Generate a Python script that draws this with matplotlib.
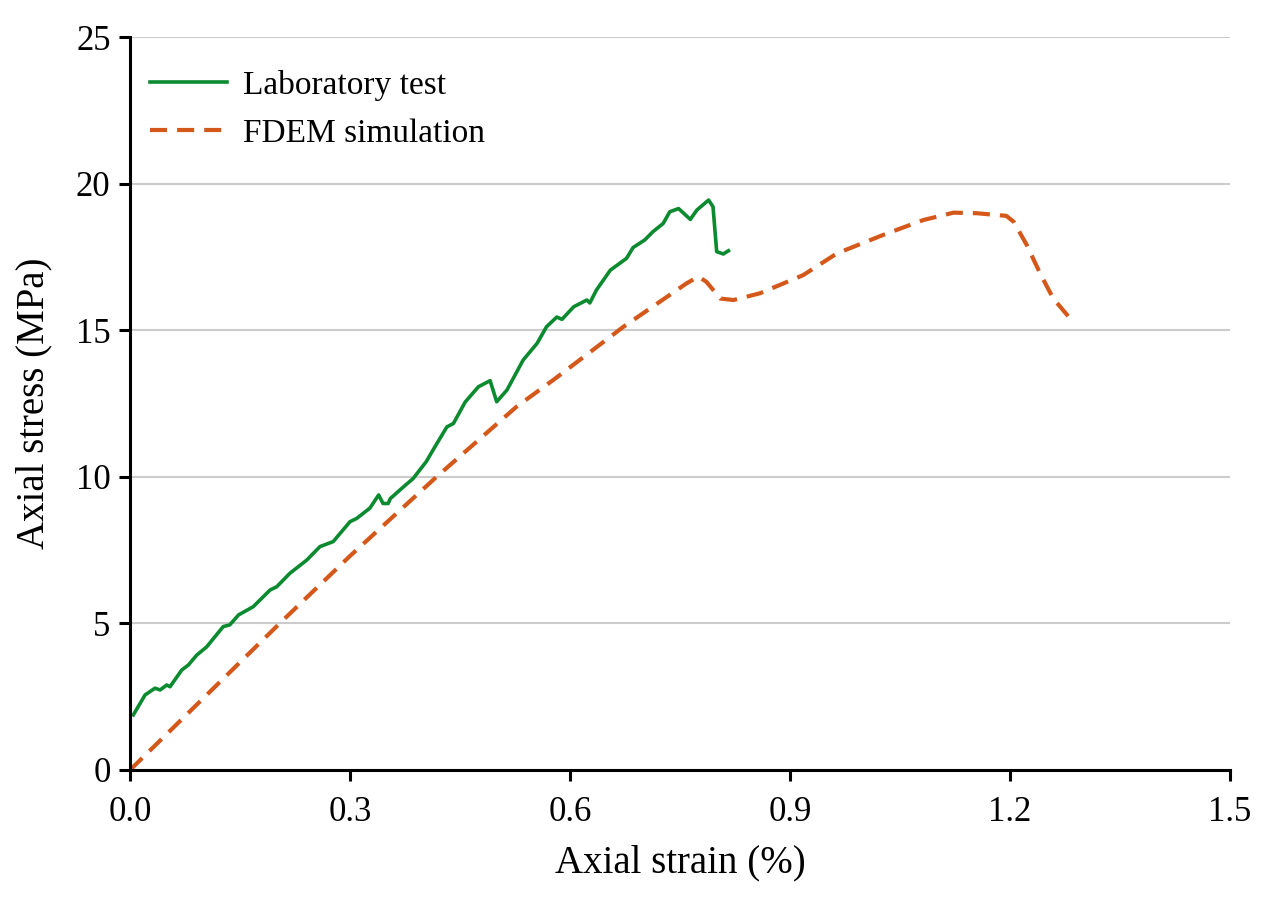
import numpy as np
import matplotlib
matplotlib.use("Agg")
import matplotlib.pyplot as plt

plt.rcParams['font.family'] = 'serif'
plt.rcParams['font.serif'] = ['Liberation Serif', 'DejaVu Serif']
plt.rcParams['font.size'] = 25

# Laboratory test (strain %, stress MPa)
lab_strain = [0.0045, 0.0205, 0.034, 0.041, 0.05, 0.0545, 0.0705, 0.0795, 0.091, 0.1045,
              0.127, 0.136, 0.148, 0.168, 0.191, 0.2, 0.218, 0.241, 0.259, 0.277,
              0.3, 0.309, 0.327, 0.339, 0.345, 0.352, 0.355, 0.373, 0.386, 0.404,
              0.414, 0.432, 0.441, 0.457, 0.475, 0.491, 0.5, 0.514, 0.536, 0.555,
              0.568, 0.582, 0.589, 0.605, 0.623, 0.627, 0.636, 0.655, 0.677, 0.686,
              0.702, 0.713, 0.727, 0.736, 0.748, 0.764, 0.773, 0.789, 0.795, 0.8,
              0.809, 0.816]
lab_stress = [1.88, 2.56, 2.79, 2.73, 2.9, 2.84, 3.41, 3.58, 3.92, 4.2,
              4.89, 4.95, 5.29, 5.57, 6.14, 6.25, 6.71, 7.16, 7.62, 7.79,
              8.47, 8.58, 8.93, 9.38, 9.09, 9.09, 9.26, 9.66, 9.94, 10.52,
              10.95, 11.7, 11.82, 12.55, 13.07, 13.28, 12.56, 12.96, 13.98, 14.55,
              15.12, 15.45, 15.37, 15.8, 16.03, 15.93, 16.37, 17.05, 17.45, 17.82,
              18.08, 18.36, 18.64, 19.04, 19.15, 18.78, 19.1, 19.44, 19.21, 17.68,
              17.6, 17.71]

# FDEM simulation
sim_strain = [0.0, 0.1, 0.209, 0.3, 0.418, 0.527, 0.577, 0.673, 0.759, 0.775,
              0.786, 0.805, 0.823, 0.859, 0.918, 0.964, 1.027, 1.082, 1.123, 1.155,
              1.195, 1.205, 1.223, 1.241, 1.259, 1.28]
sim_stress = [0.0, 2.45, 5.12, 7.3, 10.0, 12.39, 13.3, 15.12, 16.6, 16.83,
              16.65, 16.08, 16.03, 16.26, 16.88, 17.62, 18.25, 18.76, 19.01, 18.99,
              18.9, 18.7, 17.9, 16.94, 16.08, 15.46]

fig = plt.figure(figsize=(12.7, 8.99), dpi=100)
ax = fig.add_axes([0.1024, 0.1435, 0.8661, 0.8153])

ax.plot(lab_strain, lab_stress, '-', color='#0b8a2f', linewidth=2.6, label='Laboratory test')
ax.plot(sim_strain, sim_stress, '--', color='#d5581b', linewidth=3.0,
        dashes=(4.1, 2.4), label='FDEM simulation')

ax.set_xlim(0, 1.5)
ax.set_ylim(0, 25)
ax.set_xticks([0.0, 0.3, 0.6, 0.9, 1.2, 1.5])
ax.set_xticklabels(['0.0', '0.3', '0.6', '0.9', '1.2', '1.5'])
ax.set_yticks([0, 5, 10, 15, 20, 25])
ax.yaxis.grid(True, color='#cccccc', linewidth=1.5)
ax.set_axisbelow(True)
for s in ['top', 'right']:
    ax.spines[s].set_visible(False)
for s in ['left', 'bottom']:
    ax.spines[s].set_linewidth(2.2)
ax.tick_params(direction='out', length=8, width=2.2, labelsize=25)
ax.tick_params(axis='x', pad=11)
ax.tick_params(axis='y', pad=6)

ax.set_xlabel('Axial strain (%)', fontsize=28, labelpad=11)
ax.set_ylabel('Axial stress (MPa)', fontsize=28, labelpad=17)

ax.legend(loc='upper left', frameon=False, fontsize=24, handlelength=2.3,
          handletextpad=0.5, borderaxespad=0, borderpad=0,
          bbox_to_anchor=(0.018, 0.955), labelspacing=0.52)

fig.savefig('out.png', dpi=100)
